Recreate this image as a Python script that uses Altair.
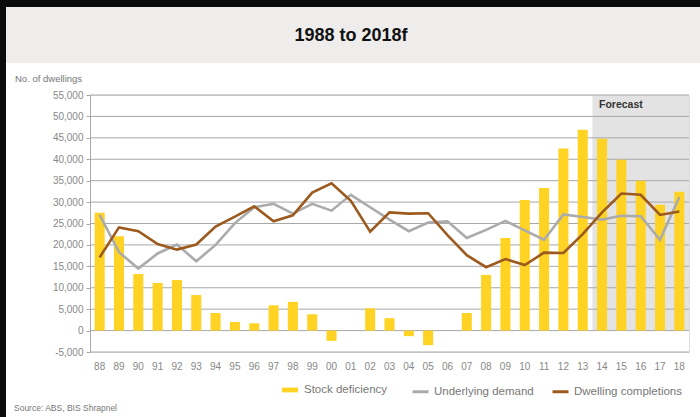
import altair as alt
import pandas as pd

# ---------------- data ----------------
years = ["88", "89", "90", "91", "92", "93", "94", "95", "96", "97", "98", "99",
         "00", "01", "02", "03", "04", "05", "06", "07", "08", "09", "10", "11",
         "12", "13", "14", "15", "16", "17", "18"]

stock_deficiency = [27500, 22000, 13200, 11100, 11800, 8300, 4100, 2000, 1700, 5900,
                    6700, 3800, -2400, 0, 5200, 2900, -1300, -3400, 0, 4100,
                    13000, 21600, 30500, 33300, 42500, 46900, 44800, 39900, 35000,
                    29400, 32400]

underlying_demand = [27000, 18300, 14500, 18000, 20100, 16200, 20000, 25100, 28800,
                     29600, 27300, 29600, 28000, 31700, 28800, 25900, 23200, 25200,
                     25500, 21600, 23500, 25600, 23400, 21200, 27100, 26500, 25900,
                     26800, 26700, 21200, 31200]

dwelling_completions = [17100, 24100, 23200, 20200, 18900, 20100, 24300, 26600,
                        29000, 25500, 26900, 32200, 34400, 30300, 23100, 27600,
                        27300, 27400, 22300, 17600, 14800, 16700, 15300, 18200,
                        18100, 22500, 27600, 32000, 31700, 27000, 27800]

y_ticks = [-5000, 0, 5000, 10000, 15000, 20000, 25000, 30000, 35000, 40000,
           45000, 50000, 55000]

forecast_start = "14"
series_names = ["Stock deficiency", "Underlying demand", "Dwelling completions"]
title_text = "1988 to 2018f"
y_label_text = "No. of dwellings"
source_text = "Source: ABS, BIS Shrapnel"
forecast_text = "Forecast"

# ---------------- frames ----------------
bars_df = pd.DataFrame({"year": years, "value": stock_deficiency,
                        "series": series_names[0]})
lines_df = pd.concat([
    pd.DataFrame({"year": years, "value": underlying_demand,
                  "series": series_names[1], "idx": range(len(years))}),
    pd.DataFrame({"year": years, "value": dwelling_completions,
                  "series": series_names[2], "idx": range(len(years))}),
])
shade_df = pd.DataFrame({"year": [forecast_start], "top": [y_ticks[-1]],
                         "bottom": [0], "label": [forecast_text]})
grid_df = pd.DataFrame({"tick": y_ticks})
one = pd.DataFrame({"a": [0]})

FONT = "Liberation Sans"

x_scale = alt.Scale(domain=years, paddingInner=0.48, paddingOuter=0.24)
y_scale = alt.Scale(domain=[y_ticks[0], y_ticks[-1]], nice=False)

x_axis = alt.Axis(labelAngle=0, ticks=False, domain=False, grid=False,
                  labelPadding=9, labelFontSize=10, labelColor="#888888",
                  labelFont=FONT, title=None)
y_axis = alt.Axis(values=y_ticks, format=",d",
                  labelExpr="replace(datum.label, '\u2212', '-')",
                  grid=False, domainColor="#aaaaaa", tickColor="#aaaaaa",
                  tickSize=4, labelFontSize=10, labelColor="#888888",
                  labelFont=FONT, labelPadding=3, title=None)

X = lambda **kw: alt.X("year:N", scale=x_scale, axis=x_axis, title=None, **kw)

# decorations
title_band = alt.Chart(one).mark_rect(color="#eeedeb").encode(
    x=alt.value(-84), x2=alt.value(610), y=alt.value(-88), y2=alt.value(-32))
black_top = alt.Chart(one).mark_rect(color="#0b0b0b").encode(
    x=alt.value(-90), x2=alt.value(610), y=alt.value(-95), y2=alt.value(-88))
black_left = alt.Chart(one).mark_rect(color="#0b0b0b").encode(
    x=alt.value(-90), x2=alt.value(-84), y=alt.value(-95), y2=alt.value(322))

shade = alt.Chart(shade_df).mark_rect(color="#e3e3e3", xOffset=-4.64).encode(
    x=X(bandPosition=0),
    x2=alt.value("width"),
    y=alt.Y("top:Q", scale=y_scale, axis=y_axis, title=None),
    y2="bottom:Q",
)

grid = alt.Chart(grid_df).mark_rule(color="#a8a8a8", strokeWidth=1).encode(
    y=alt.Y("tick:Q", scale=y_scale, axis=y_axis, title=None))

bars = alt.Chart(bars_df).mark_bar().encode(
    x=X(),
    y=alt.Y("value:Q", scale=y_scale, axis=y_axis, title=None),
    y2=alt.datum(0),
    color=alt.Color("series:N",
                    scale=alt.Scale(domain=[series_names[0]], range=["#FFD324"]),
                    legend=alt.Legend(title=None, orient="none", legendX=192,
                                      legendY=287, direction="horizontal",
                                      symbolType="M-1,-0.3H1V0.3H-1Z",
                                      symbolSize=256, symbolStrokeWidth=0,
                                      labelFontSize=11.5, labelColor="#777777",
                                      labelFont=FONT, labelOffset=6, padding=0)),
)

lines = alt.Chart(lines_df).mark_line(strokeWidth=2.6).encode(
    x=X(),
    y=alt.Y("value:Q", scale=y_scale, axis=y_axis, title=None),
    order=alt.Order("idx:Q"),
    color=alt.Color("series:N",
                    scale=alt.Scale(domain=series_names[1:],
                                    range=["#ababab", "#9c5a1e"]),
                    legend=alt.Legend(title=None, orient="none", legendX=321,
                                      legendY=287, direction="horizontal",
                                      symbolType="stroke", symbolSize=256,
                                      symbolStrokeWidth=3,
                                      labelFontSize=11.5, labelColor="#777777",
                                      labelFont=FONT, labelOffset=4,
                                      columnPadding=12, padding=0)),
)

forecast_label = alt.Chart(shade_df).mark_text(
    align="left", baseline="top", dx=2, dy=5, fontWeight="bold",
    fontSize=10.5, color="#333333", font=FONT).encode(
    x=X(bandPosition=0),
    y=alt.Y("top:Q", scale=y_scale, axis=y_axis, title=None),
    text="label:N",
)

title = alt.Chart(pd.DataFrame({"t": [title_text]})).mark_text(
    align="center", baseline="alphabetic", fontSize=18, fontWeight="bold",
    color="#111111", font=FONT).encode(
    x=alt.value(261), y=alt.value(-54), text="t:N")

y_label = alt.Chart(pd.DataFrame({"t": [y_label_text]})).mark_text(
    align="left", baseline="middle", fontSize=9.5, color="#777777",
    font=FONT).encode(x=alt.value(-75), y=alt.value(-16), text="t:N")

source = alt.Chart(pd.DataFrame({"t": [source_text]})).mark_text(
    align="left", baseline="middle", fontSize=8.5, color="#777777",
    font=FONT).encode(x=alt.value(-76), y=alt.value(313), text="t:N")

chart = alt.layer(
    title_band, black_top, black_left, shade, grid, bars, lines,
    forecast_label, title, y_label, source,
).resolve_scale(color="independent").properties(
    width=599, height=257,
    autosize=alt.AutoSizeParams(type="none"),
    padding={"left": 90, "top": 95, "right": 11, "bottom": 65},
    background="white",
).configure_view(stroke="#b0b0b0", strokeWidth=1).configure(font=FONT)

chart.save("out.html", embed_options={"renderer": "svg", "actions": False})
